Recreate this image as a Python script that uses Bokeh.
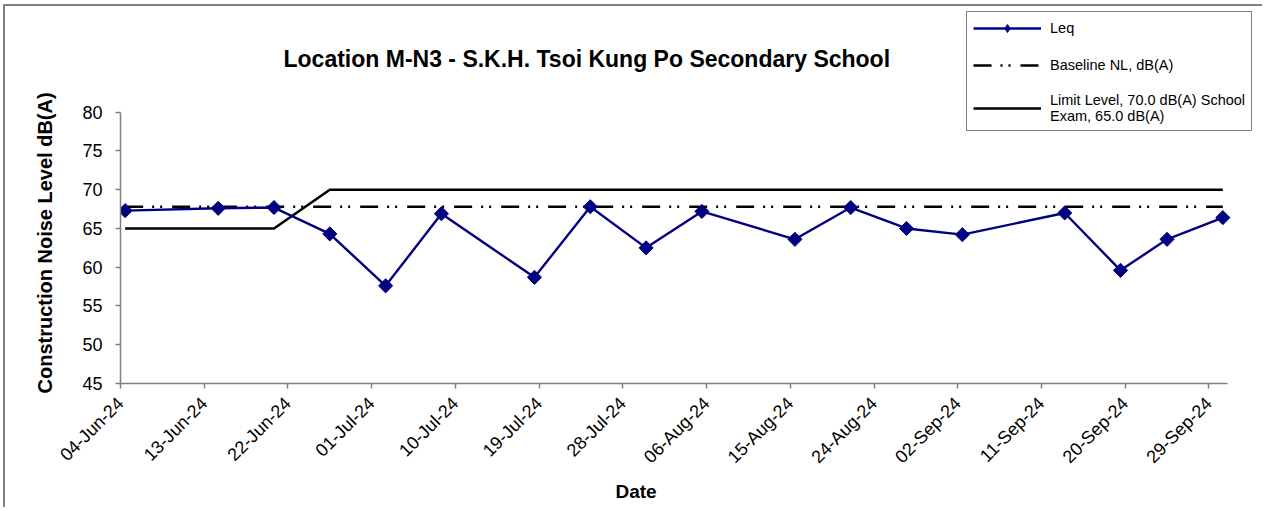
from datetime import datetime, timedelta
from math import pi
from bokeh.plotting import figure
from bokeh.models import (Range1d, FixedTicker, DatetimeTickFormatter, Legend, LegendItem,
                          Label, Title, ColumnDataSource)
from bokeh.embed import file_html
from bokeh.resources import INLINE

# ---------------- data ----------------
dates = ["2024-06-04", "2024-06-14", "2024-06-20", "2024-06-26", "2024-07-02", "2024-07-08",
         "2024-07-18", "2024-07-24", "2024-07-30", "2024-08-05", "2024-08-15", "2024-08-21",
         "2024-08-27", "2024-09-02", "2024-09-13", "2024-09-19", "2024-09-24", "2024-09-30"]
leq = [67.3, 67.6, 67.7, 64.3, 57.6, 66.9, 58.7, 67.8, 62.5, 67.2, 63.6, 67.7,
       65.0, 64.2, 67.0, 59.6, 63.6, 66.4]
baseline = [67.8] * 18
limit = [65.0, 65.0, 65.0] + [70.0] * 15
x_tick_labels = ["04-Jun-24", "13-Jun-24", "22-Jun-24", "01-Jul-24", "10-Jul-24", "19-Jul-24",
                 "28-Jul-24", "06-Aug-24", "15-Aug-24", "24-Aug-24", "02-Sep-24", "11-Sep-24",
                 "20-Sep-24", "29-Sep-24"]
y_ticks = [45, 50, 55, 60, 65, 70, 75, 80]
x_start, x_end = "2024-06-04", "2024-10-01"

FONT = "Liberation Sans"

# canvas offset caused by the chart-area border (margin + border width)
OX, OY = 5, 6
W, H = 1259, 503
FRAME_L, AXIS_R, FRAME_B = 120 - OX, 1227 - OX, 383 - OY   # axis extents (canvas px)
Y80_PX = 111.7 - OY                                           # row of the 80 dB tick


def ms(d):
    return (d - datetime(1970, 1, 1)).total_seconds() * 1000.0


# points sit in the middle of each day slot (Excel date axis, between tick marks)
xs = [datetime.strptime(d, "%Y-%m-%d") + timedelta(hours=12) for d in dates]
src = ColumnDataSource(dict(x=xs, leq=leq, base=baseline, lim=limit))

# The frame covers the canvas to the top and right so that the title and legend
# (which sit outside the axes box) are not clipped; axis lines are bounded.
x0 = ms(datetime.strptime(x_start, "%Y-%m-%d"))
x1 = ms(datetime.strptime(x_end, "%Y-%m-%d"))
x_far = x0 + (x1 - x0) * (W - FRAME_L) / (AXIS_R - FRAME_L)
y_lo, y_hi = y_ticks[0], y_ticks[-1]
y_top = y_lo + (y_hi - y_lo) * FRAME_B / (FRAME_B - Y80_PX)

p = figure(width=W, height=H, x_axis_type="datetime", output_backend="svg",
           toolbar_location=None, min_border_left=FRAME_L, min_border_right=0,
           min_border_top=0, min_border_bottom=H - FRAME_B)
p.styles = {"margin-left": "3px", "margin-top": "4px",
            "border-left": "2px solid #808080", "border-top": "2px solid #808080"}
p.x_range = Range1d(x0, x_far)
p.y_range = Range1d(y_lo, y_top)
p.outline_line_color = None
p.grid.visible = False
p.background_fill_color = "white"
p.border_fill_color = "white"

r_lim = p.line("x", "lim", source=src, line_color="black", line_width=2.6)
r_base = p.line("x", "base", source=src, line_color="black", line_width=2.6,
                line_dash="18 9 2 6 2 10")
r_leq = p.line("x", "leq", source=src, line_color="#000080", line_width=2.4)
r_leq_m = p.scatter("x", "leq", source=src, marker="square", size=10, angle=pi / 4,
                    fill_color="#000080", line_color="#000080")
# legend-only marker (hidden in the plot, drawn only in the legend)
r_leg_m = p.scatter("x", "leq", source=src, marker="diamond", size=11,
                    fill_color="#000080", line_color="#000080", visible=False)

# axes
tick_ms = [ms(datetime.strptime(t, "%d-%b-%y")) for t in x_tick_labels]
xa = p.xaxis[0]
xa.ticker = FixedTicker(ticks=tick_ms)
xa.bounds = (x0, x1)
fmt = "%d-%b-%y"
xa.formatter = DatetimeTickFormatter(days=fmt, months=fmt, years=fmt, hours=fmt,
                                     minutes=fmt, seconds=fmt, milliseconds=fmt,
                                     microseconds=fmt, minsec=fmt, hourmin=fmt)
xa.major_label_orientation = pi / 4
xa.major_label_text_font = FONT
xa.major_label_text_font_size = "18px"
xa.major_label_text_color = "black"
xa.major_label_standoff = 12
ya = p.yaxis[0]
ya.ticker = FixedTicker(ticks=y_ticks)
ya.bounds = (y_lo, y_hi)
ya.major_label_text_font = FONT
ya.major_label_text_font_size = "18px"
ya.major_label_text_color = "black"
ya.major_label_standoff = 13
for ax in (xa, ya):
    ax.axis_line_color = "#808080"
    ax.axis_line_width = 1.5
    ax.major_tick_line_color = "#808080"
    ax.major_tick_line_width = 1.5
    ax.major_tick_in = 0
    ax.major_tick_out = 5
    ax.minor_tick_line_color = None

# y-axis title (left side panel, positioned along the 45..80 span)
p.add_layout(Title(text="Construction Noise Level  dB(A)", align="left", offset=-10,
                   standoff=48, text_font=FONT, text_font_size="20px",
                   text_font_style="bold", text_color="black"), "left")

# x-axis title, placed under the axis
p.add_layout(Title(text="Date", align="left", offset=615 - 120, standoff=2,
                   text_font=FONT, text_font_size="19px", text_font_style="bold",
                   text_color="black"), "below")

# chart title
p.add_layout(Label(x=283 - 120, y=383 - 58, x_units="screen", y_units="screen",
                   text="Location M-N3 - S.K.H. Tsoi Kung Po Secondary School",
                   text_font=FONT, text_font_size="23px", text_font_style="bold",
                   text_align="left", text_baseline="middle", text_color="black"))

legend = Legend(items=[
    LegendItem(label="Leq", renderers=[r_leq, r_leg_m]),
    LegendItem(label="Baseline NL, dB(A)", renderers=[r_base]),
    LegendItem(label="Limit Level, 70.0 dB(A) School\nExam, 65.0 dB(A)", renderers=[r_lim]),
], location=(966 - 120, 383 - 131))
legend.label_text_font = FONT
legend.label_text_font_size = "14.5px"
legend.label_text_color = "black"
legend.label_height = 20
legend.glyph_height = 20
legend.glyph_width = 68
legend.label_standoff = 9
legend.spacing = 17
legend.padding = 6
legend.border_line_color = "black"
legend.border_line_width = 1.5
legend.background_fill_color = "white"
legend.background_fill_alpha = 1
p.add_layout(legend, "center")

open("out.html", "w").write(file_html(p, INLINE))
